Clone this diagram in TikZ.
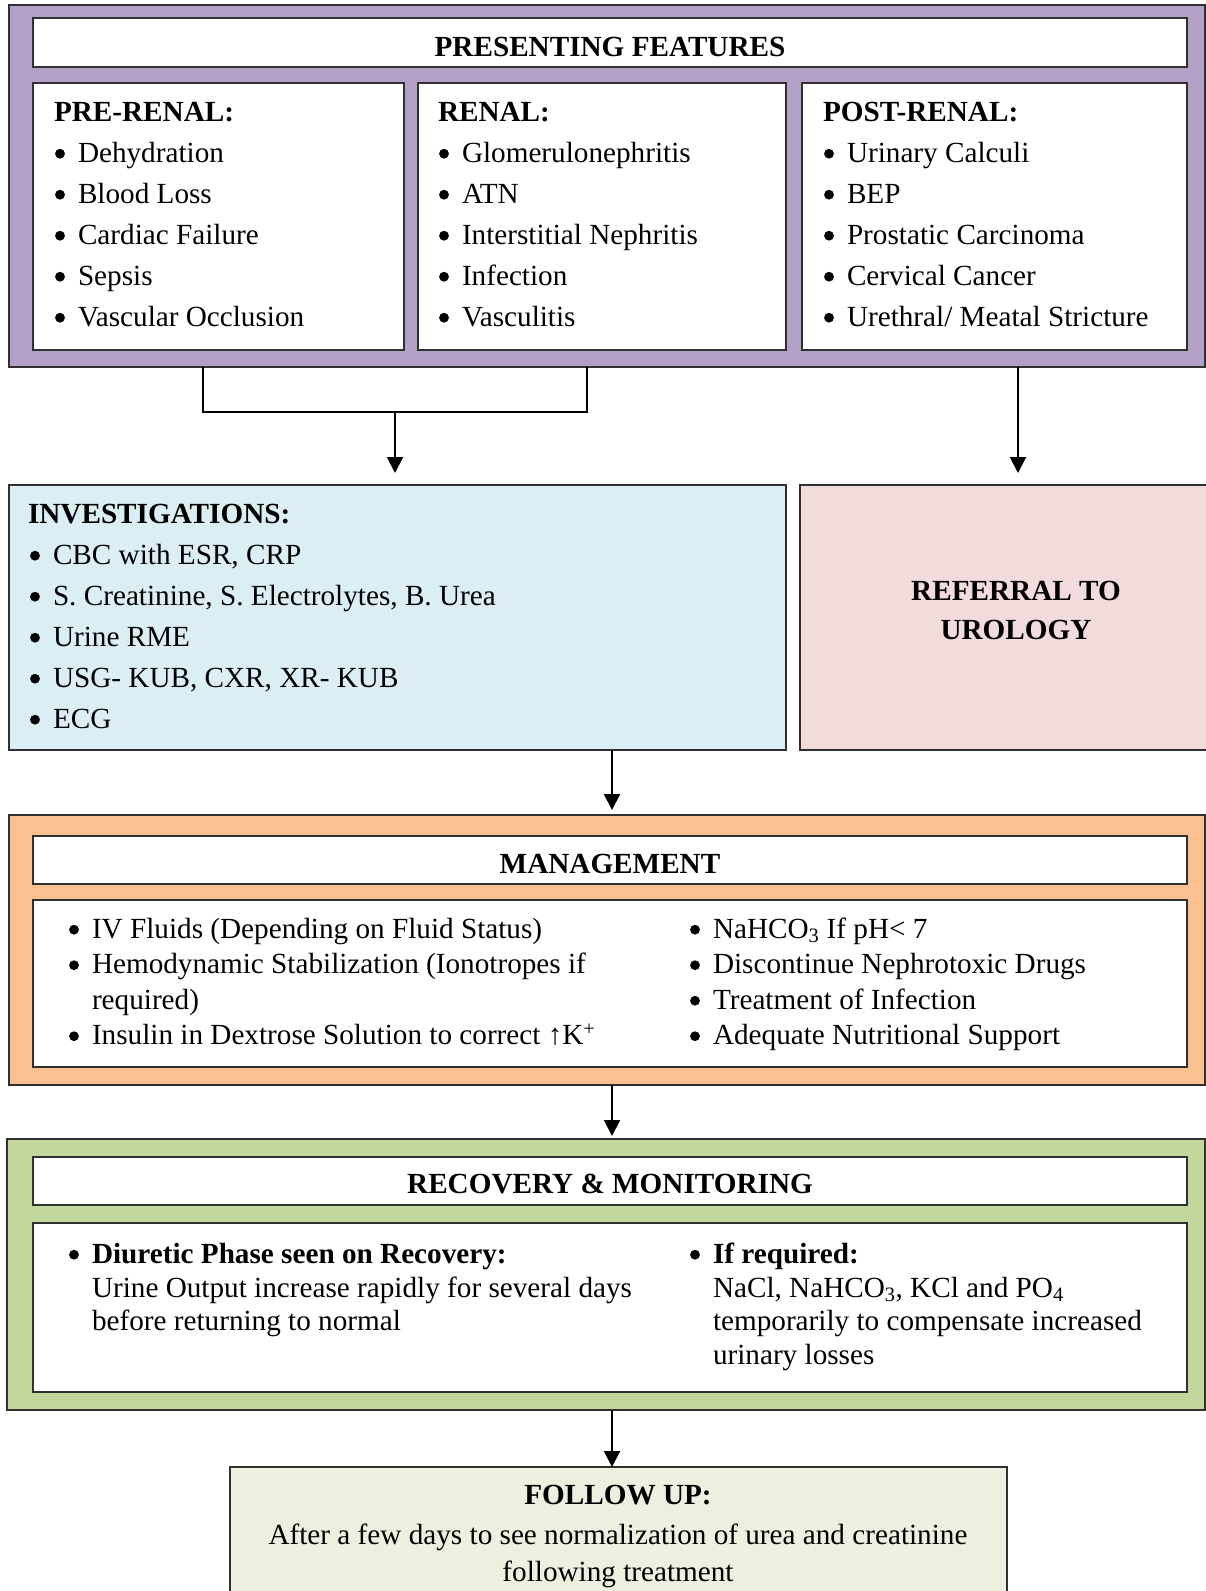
\documentclass[tikz,border=0pt]{standalone}
\usepackage{fontspec}
\setmainfont{Liberation Serif}
\usetikzlibrary{arrows.meta}

\definecolor{bandpurple}{HTML}{B2A1C7}
\definecolor{bandblue}{HTML}{DAEEF3}
\definecolor{bandpink}{HTML}{F2DCDB}
\definecolor{bandorange}{HTML}{FAC090}
\definecolor{bandgreen}{HTML}{C3D69B}
\definecolor{bandpale}{HTML}{EBF1DE}
\definecolor{edge}{HTML}{303030}

\tikzset{
  panel/.style={draw=edge, line width=1.2pt, anchor=north west, inner sep=0pt, outer sep=0pt},
  txt/.style={inner sep=0pt, outer sep=0pt, anchor=base west, font=\fontsize{29.2}{35}\selectfont},
  hd/.style={txt, font=\fontsize{29.2}{35}\selectfont\bfseries},
  item/.style={txt},
  arrow/.style={line width=2pt, -{Triangle[width=16pt,length=16pt]}},
  link/.style={line width=2pt}
}

% box: name, fill, x1, y1, x2, y2 (pixel units, y downward)
\newcommand\panelbox[6]{%
  \node[panel, fill=#2, minimum width={(#5-#3)*1pt}, minimum height={(#6-#4)*1pt}] (#1) at (#3,#4) {};}

\begin{document}
\begin{tikzpicture}[x=1pt, y=-1pt]
\path[use as bounding box, fill=white] (0,0) rectangle (1206,1591);
\clip (0,0) rectangle (1206,1591);

% ---------- presenting features ----------
\panelbox{pfouter}{bandpurple}{9}{5}{1205}{367}
\panelbox{pftitlebox}{white}{33}{18}{1187}{67}
\node[hd, anchor=base] (pftitle) at (610,56) {PRESENTING FEATURES};

\panelbox{prebox}{white}{33}{83}{404}{350}
\panelbox{renbox}{white}{418}{83}{786}{350}
\panelbox{postbox}{white}{802}{83}{1187}{350}

\node[hd] (prehd) at (54,121) {PRE-RENAL:};
\node[hd] (renhd) at (438,121) {RENAL:};
\node[hd] (posthd) at (823,121) {POST-RENAL:};

\foreach \t [count=\i from 0] in {Dehydration, Blood Loss, Cardiac Failure, Sepsis, Vascular Occlusion}
  \node[item] (pre\i) at (78,{162+41*\i}) {\t};
\foreach \t [count=\i from 0] in {Glomerulonephritis, ATN, Interstitial Nephritis, Infection, Vasculitis}
  \node[item] (ren\i) at (462,{162+41*\i}) {\t};
\foreach \t [count=\i from 0] in {Urinary Calculi, BEP, Prostatic Carcinoma, Cervical Cancer, Urethral/ Meatal Stricture}
  \node[item] (post\i) at (847,{162+41*\i}) {\t};

% ---------- investigations / referral ----------
\panelbox{invest}{bandblue}{9}{485}{786}{750}
\panelbox{referral}{bandpink}{800}{485}{1232}{750}

\node[hd] (invhd) at (28,523) {INVESTIGATIONS:};
\foreach \t [count=\i from 0] in {{CBC with ESR, CRP}, {S. Creatinine, S. Electrolytes, B. Urea}, Urine RME, {USG- KUB, CXR, XR- KUB}, ECG}
  \node[item] (inv\i) at (53,{564+41*\i}) {\t};

\node[hd, anchor=base] (ref1) at (1016,600) {REFERRAL TO};
\node[hd, anchor=base] (ref2) at (1016,639) {UROLOGY};

% ---------- management ----------
\panelbox{mgmt}{bandorange}{9}{815}{1205}{1085}
\panelbox{mgmttitlebox}{white}{33}{836}{1187}{884}
\node[hd, anchor=base] (mgmttitle) at (610,873) {MANAGEMENT};
\panelbox{mgmtbody}{white}{33}{900}{1187}{1067}

\node[item] (ml1) at (92,938) {IV Fluids (Depending on Fluid Status)};
\node[item] (ml2) at (92,973.5) {Hemodynamic Stabilization (Ionotropes if};
\node[txt] (ml2b) at (92,1009) {required)};
\node[item] (ml3) at (92,1044.5) {Insulin in Dextrose Solution to correct ↑K\textsuperscript{+}};

\node[item] (mr1) at (713,938) {NaHCO\textsubscript{3} If pH< 7};
\node[item] (mr2) at (713,973.5) {Discontinue Nephrotoxic Drugs};
\node[item] (mr3) at (713,1009) {Treatment of Infection};
\node[item] (mr4) at (713,1044.5) {Adequate Nutritional Support};

% ---------- recovery & monitoring ----------
\panelbox{recov}{bandgreen}{7}{1139}{1205}{1410}
\panelbox{recovtitlebox}{white}{33}{1157}{1187}{1205}
\node[hd, anchor=base] (recovtitle) at (610,1193) {RECOVERY \& MONITORING};
\panelbox{recovbody}{white}{33}{1223}{1187}{1392}

\node[hd] (rl1) at (92,1263) {Diuretic Phase seen on Recovery:};
\node[txt] (rl2) at (92,1297) {Urine Output increase rapidly for several days};
\node[txt] (rl3) at (92,1330) {before returning to normal};

\node[hd] (rr1) at (713,1263) {If required:};
\node[txt] (rr2) at (713,1297) {NaCl, NaHCO\textsubscript{3}, KCl and PO\textsubscript{4}};
\node[txt] (rr3) at (713,1330) {temporarily to compensate increased};
\node[txt] (rr4) at (713,1364) {urinary losses};

% ---------- follow up ----------
\panelbox{follow}{bandpale}{230}{1467}{1007}{1640}
\node[hd, anchor=base] (fuhd) at (618,1504) {FOLLOW UP:};
\node[txt, anchor=base] (fu1) at (618,1544) {After a few days to see normalization of urea and creatinine};
\node[txt, anchor=base] (fu2) at (618,1581) {following treatment};

% ---------- list bullets, left of each item's baseline ----------
\foreach \n in {pre0,pre1,pre2,pre3,pre4,ren0,ren1,ren2,ren3,ren4,
                post0,post1,post2,post3,post4,inv0,inv1,inv2,inv3,inv4,
                ml1,ml2,ml3,mr1,mr2,mr3,mr4,rl1,rr1}
  \fill ([xshift=-18pt,yshift=8.3pt]\n.base west) circle (4.9pt);

% ---------- connectors ----------
\coordinate (bkL) at (203,412);
\coordinate (bkR) at (587,412);
\coordinate (bkM) at (395,412);
\coordinate (urx) at (1018,0);
\coordinate (cx) at (612,0);

\draw[link] (bkL |- pfouter.south) -- (bkL) -- (bkR) -- (bkR |- pfouter.south);
\draw[arrow, shorten >=12pt] (bkM) -- (bkM |- invest.north);
\draw[arrow, shorten >=12pt] (urx |- pfouter.south) -- (urx |- referral.north);
\draw[arrow, shorten >=5pt] (cx |- invest.south) -- (cx |- mgmt.north);
\draw[arrow, shorten >=3pt] (cx |- mgmt.south) -- (cx |- recov.north);
\draw[arrow] (cx |- recov.south) -- (cx |- follow.north);
\end{tikzpicture}
\end{document}
